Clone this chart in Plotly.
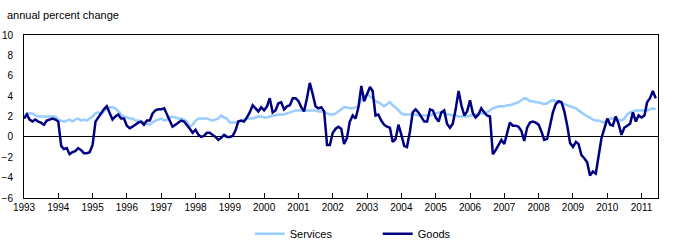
import pandas as pd
import plotly.graph_objects as go

start_month = "1993-01-01"
year_ticks = [str(y) for y in range(1993, 2012)]

goods = [
    # 1993
    1.8, 2.2, 1.7, 1.5, 1.7, 1.5, 1.4, 1.2, 1.6, 1.7, 1.8, 1.7,
    # 1994
    1.5, -0.9, -1.2, -1.1, -1.7, -1.5, -1.4, -1.1, -1.3, -1.6, -1.6, -1.5,
    # 1995
    -0.8, 1.5, 1.9, 2.3, 2.7, 3.0, 2.3, 1.7, 2.0, 2.2, 1.8, 1.8,
    # 1996
    1.1, 0.85, 1.0, 1.2, 1.4, 1.5, 1.2, 1.6, 1.6, 2.3, 2.6, 2.7,
    # 1997
    2.7, 2.8, 2.2, 1.5, 1.0, 1.2, 1.4, 1.6, 1.5, 1.2, 0.8, 0.4,
    # 1998
    0.7, 0.2, 0.0, 0.1, 0.4, 0.4, 0.2, 0.0, -0.3, -0.1, 0.2, 0.0,
    # 1999
    0.0, 0.1, 0.6, 1.5, 1.6, 1.5, 1.9, 2.4, 3.1, 2.8, 2.5, 2.9,
    # 2000
    2.6, 3.0, 3.8, 2.4, 2.6, 3.3, 3.4, 2.7, 3.0, 3.1, 3.8, 3.8,
    # 2001
    3.5, 2.9, 2.5, 3.8, 5.3, 4.2, 3.0, 2.8, 2.9, 2.5, -0.8, -0.8,
    # 2002
    0.4, 0.8, 1.0, 0.8, -0.7, -0.1, 1.5, 2.1, 1.8, 2.9, 5.0, 3.5,
    # 2003
    4.3, 4.9, 4.5, 2.1, 2.2, 1.6, 1.2, 1.0, 0.9, -0.5, -0.2, 1.2,
    # 2004
    0.2, -0.9, -1.0, 0.5, 2.4, 2.7, 2.4, 1.9, 1.5, 1.5, 2.7, 2.6,
    # 2005
    1.9, 1.5, 2.4, 2.6, 1.3, 0.9, 1.3, 2.7, 4.5, 3.1, 2.1, 2.5,
    # 2006
    3.6, 2.3, 1.9, 2.2, 2.8, 2.4, 2.1, 2.0, -1.7, -1.3, -0.8, -0.3,
    # 2007
    -0.7, 0.5, 1.4, 1.1, 1.1, 1.0, 0.6, -0.4, 0.9, 1.4, 1.5, 1.4,
    # 2008
    1.2, 0.5, -0.3, -0.2, 1.0, 2.4, 3.2, 3.5, 3.4, 2.5, 1.1, -0.6,
    # 2009
    -1.0, -0.5, -0.7, -1.8, -2.1, -2.5, -3.8, -3.4, -3.6, -2.0, -0.1, 0.8,
    # 2010
    1.8, 1.2, 1.1, 2.0, 1.3, 0.2, 0.9, 1.1, 1.3, 2.4, 1.5, 2.1,
    # 2011
    1.9, 2.1, 3.4, 3.8, 4.5, 3.8,
]

services = [
    # 1993
    2.0, 2.3, 2.3, 2.3, 2.1, 2.0, 2.0, 2.0, 2.0, 2.0, 2.0, 2.0,
    # 1994
    1.7, 1.6, 1.5, 1.6, 1.7, 1.5, 1.7, 1.8, 1.6, 1.7, 1.6, 1.8,
    # 1995
    2.0, 2.3, 2.4, 2.2, 2.5, 2.8, 2.9, 2.9, 2.8, 2.5, 2.2, 2.0,
    # 1996
    1.9, 1.8, 1.8, 1.6, 1.6, 1.5, 1.4, 1.3, 1.2, 1.4, 1.6, 1.7,
    # 1997
    1.8, 1.6, 1.7, 1.9, 2.0, 1.9, 1.8, 1.8, 1.7, 1.5, 1.0, 1.2,
    # 1998
    1.6, 1.8, 1.8, 1.8, 1.8, 1.7, 1.6, 1.7, 1.8, 2.1, 1.9, 1.8,
    # 1999
    1.4, 1.4, 1.4, 1.5, 1.6, 1.7, 1.8, 1.8, 1.8, 1.9, 2.0, 2.0,
    # 2000
    1.9, 1.9, 2.0, 2.1, 2.1, 2.2, 2.2, 2.2, 2.3, 2.4, 2.5, 2.6,
    # 2001
    2.6, 2.6, 2.6, 2.6, 2.6, 2.6, 2.6, 2.5, 2.5, 2.4, 2.3, 2.2,
    # 2002
    2.2, 2.3, 2.5, 2.7, 2.9, 2.9, 2.8, 2.8, 2.9, 3.0, 3.6, 4.0,
    # 2003
    4.2, 4.0, 3.8, 3.5, 3.4, 3.2, 3.0, 3.2, 3.4, 3.1, 2.9, 2.6,
    # 2004
    2.3, 2.2, 2.2, 2.2, 2.2, 2.2, 2.1, 2.1, 2.1, 2.1, 2.1, 2.2,
    # 2005
    2.3, 2.4, 2.4, 2.3, 2.2, 2.2, 2.1, 2.1, 2.0, 2.0, 2.0, 2.0,
    # 2006
    2.1, 2.1, 2.2, 2.3, 2.3, 2.3, 2.4, 2.6, 2.8, 2.9, 3.0, 3.0,
    # 2007
    3.0, 3.1, 3.1, 3.2, 3.3, 3.4, 3.6, 3.8, 3.7, 3.5, 3.5, 3.4,
    # 2008
    3.4, 3.3, 3.2, 3.3, 3.5, 3.6, 3.5, 3.4, 3.3, 3.2, 3.1, 3.0,
    # 2009
    2.9, 2.8, 2.6, 2.4, 2.2, 2.0, 1.9, 1.7, 1.6, 1.6, 1.5, 1.4,
    # 2010
    1.6, 1.8, 1.8, 1.8, 1.7, 1.6, 1.8, 2.2, 2.4, 2.5, 2.6, 2.6,
    # 2011
    2.6, 2.6, 2.6, 2.7, 2.8, 2.7,
]

months = pd.date_range(start_month, periods=len(goods), freq="MS")

fig = go.Figure()
fig.add_trace(go.Scatter(x=months, y=services, mode="lines", name="Services",
                         line=dict(color="#99CCFF", width=2.5)))
fig.add_trace(go.Scatter(x=months, y=goods, mode="lines", name="Goods",
                         line=dict(color="#000080", width=2.5)))

font = "Liberation Sans, Arial, sans-serif"
fig.update_layout(
    width=678, height=248,
    margin=dict(l=24, r=20, t=35, b=50, autoexpand=False),
    paper_bgcolor="white", plot_bgcolor="white",
    font=dict(family=font, size=10, color="black"),
    showlegend=True,
    legend=dict(orientation="h", x=0.356, y=-0.22, xanchor="left", yanchor="middle",
                font=dict(size=11), entrywidth=83, entrywidthmode="pixels",
                bgcolor="rgba(0,0,0,0)"),
    annotations=[dict(text="annual percent change", xref="paper", yref="paper",
                      x=-0.03, y=1.0, xanchor="left", yanchor="bottom", yshift=12,
                      showarrow=False, font=dict(size=11))],
)
fig.update_xaxes(
    type="date", range=["1993-01-01", "2011-06-25"],
    tickvals=pd.to_datetime([y + "-01-01" for y in year_ticks]),
    ticktext=year_ticks,
    ticks="inside", ticklen=5, tickcolor="black", tickwidth=1,
    showgrid=False, showline=True, linecolor="black", linewidth=1, mirror=True,
    zeroline=False, tickfont=dict(size=10),
)
fig.update_yaxes(
    range=[-6, 10], dtick=2, showgrid=False,
    showline=True, linecolor="black", linewidth=1, mirror=True,
    zeroline=True, zerolinecolor="black", zerolinewidth=1,
    ticks="", ticklabelstandoff=8, tickfont=dict(size=10),
)

fig.write_html("out.html")
